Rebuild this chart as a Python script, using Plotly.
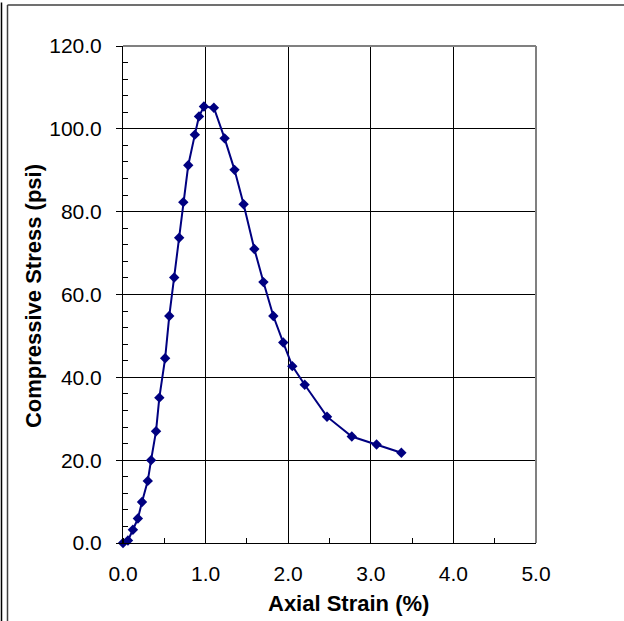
import plotly.graph_objects as go

# Unconfined compression test: axial strain (%) vs compressive stress (psi)
strain = [0.0, 0.06, 0.12, 0.18, 0.23, 0.30, 0.34, 0.40, 0.44, 0.51, 0.56, 0.62,
          0.68, 0.73, 0.79, 0.87, 0.92, 0.98, 1.10, 1.23, 1.35, 1.46, 1.59, 1.70,
          1.82, 1.94, 2.05, 2.20, 2.47, 2.77, 3.07, 3.37]
stress = [0.0, 0.6, 3.2, 5.9, 9.9, 15.0, 20.0, 27.0, 35.1, 44.6, 54.8, 64.1,
          73.7, 82.3, 91.2, 98.6, 103.0, 105.4, 105.1, 97.7, 90.1, 81.8, 71.0, 63.0,
          54.8, 48.4, 42.7, 38.2, 30.5, 25.7, 23.8, 21.8]

x_ticks = [0, 1, 2, 3, 4, 5]
y_ticks = [0, 20, 40, 60, 80, 100, 120]

W, H = 624, 621
L, R, T, B = 123, 88, 45.5, 77.7
pw, ph = W - L - R, H - T - B


def px_x(p):
    return (p - L) / pw


def px_y(p):
    return (H - B - p) / ph


navy = "#000080"
font = "Liberation Sans, Arial, sans-serif"

fig = go.Figure()
fig.add_trace(go.Scatter(
    x=strain, y=stress, mode="lines+markers",
    line=dict(color=navy, width=2),
    marker=dict(symbol="diamond", size=8, color=navy, line=dict(width=0)),
    showlegend=False, cliponaxis=False,
))

axis_common = dict(
    showgrid=True, gridcolor="black", gridwidth=1,
    showline=True, linecolor="black", linewidth=1,
    zeroline=False, tickformat=".1f",
    tickfont=dict(family=font, size=21, color="black"),
)

fig.update_xaxes(
    range=[0, 5], tickvals=x_ticks, ticks="", ticklabelstandoff=12,
    minor=dict(dtick=0.5, ticks="inside", ticklen=5, tickcolor="black", showgrid=False),
    **axis_common,
)
fig.update_yaxes(
    range=[0, 120], tickvals=y_ticks, ticks="outside", ticklen=6, tickcolor="black",
    ticklabelstandoff=10,
    minor=dict(dtick=4, ticks="inside", ticklen=5, tickcolor="black", showgrid=False),
    **axis_common,
)

shapes = [
    # plot-area border on top and right
    dict(type="line", xref="paper", yref="paper", x0=0, x1=1, y0=1, y1=1,
         line=dict(color="#808080", width=2)),
    dict(type="line", xref="paper", yref="paper", x0=1, x1=1, y0=0, y1=1,
         line=dict(color="#808080", width=2)),
    # chart frame
    dict(type="line", xref="paper", yref="paper", x0=px_x(7.5), x1=px_x(640),
         y0=px_y(4.5), y1=px_y(4.5), line=dict(color="#404040", width=1.5)),
    dict(type="line", xref="paper", yref="paper", x0=px_x(7.5), x1=px_x(7.5),
         y0=px_y(4.5), y1=px_y(640), line=dict(color="#404040", width=1.5)),
    dict(type="line", xref="paper", yref="paper", x0=px_x(1.5), x1=px_x(1.5),
         y0=px_y(2), y1=px_y(640), line=dict(color="black", width=1.5)),
]

annotations = [
    dict(text="<b>Axial Strain (%)</b>", xref="paper", yref="paper",
         x=px_x(348), y=px_y(604), xanchor="center", yanchor="middle",
         showarrow=False, font=dict(family=font, size=22, color="black")),
    dict(text="<b>Compressive Stress (psi)</b>", xref="paper", yref="paper",
         x=px_x(33), y=px_y(296), xanchor="center", yanchor="middle",
         textangle=-90, showarrow=False, font=dict(family=font, size=22, color="black")),
]

fig.update_layout(
    width=W, height=H,
    margin=dict(l=L, r=R, t=T, b=B),
    paper_bgcolor="white", plot_bgcolor="white",
    shapes=shapes, annotations=annotations,
)

fig.write_html("out.html")
